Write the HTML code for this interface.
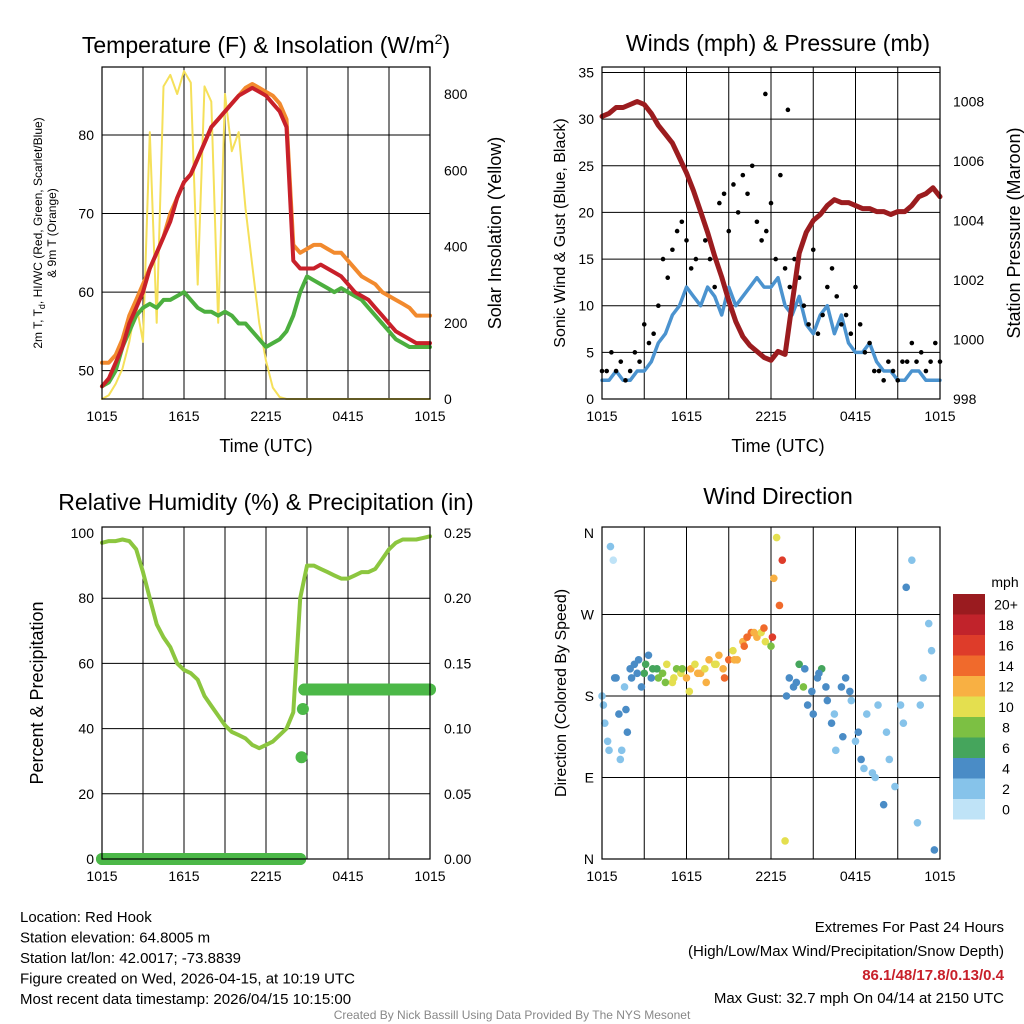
<!DOCTYPE html>
<html><head><meta charset="utf-8"><style>
html,body{margin:0;padding:0;background:#fff;}
svg{display:block;font-family:"Liberation Sans",Arial,sans-serif;}
</style></head><body>
<svg id="c" width="1024" height="1024" viewBox="0 0 1024 1024" xmlns="http://www.w3.org/2000/svg"></svg>
<script>
// ---- data (hours since 1015 UTC, uniform spacing across 24h) ----
const xTickLabels = ["1015","1615","2215","0415","1015"];
const tempRed = [48,49,51,53,56,58,60,63,65,67,69,72,74,75,77,79,81,82,83,84,85,85.5,86,85.5,85,84,83,81,64,63,63,63,63.5,63,62.5,62,61,60,59.5,59,58,57,56,55,54.5,54,53.5,53.5,53.5];
const tempOrange = [51,51,52,54,57,59,61,63,65,67,70,72,74,75,77,79,81,82,83,84,85,86,86.5,86,85.5,85,84,82,66,65,65.5,66,66,65.5,65,65,64,63,62,61.5,61,60,59.5,59,58.5,58,57,57,57];
const tempGreen = [48,48.5,50,53,55,57,58,58.5,58,59,59,59.5,60,59,58,57.5,57.5,57,57.5,57,56,56,55,54,53,53.5,54,55,57,60,62,61.5,61,60.5,60,60.5,60,59.5,59,58,57,56,55,54,53.5,53,53,53,53];
const solar = [0,10,40,80,150,250,150,700,200,820,850,800,860,830,300,820,780,200,800,650,700,500,350,200,100,30,5,0,0,0,0,0,0,0,0,0,0,0,0,0,0,0,0,0,0,0,0,0,0];
const tempTicks = [50,60,70,80];
const solarTicks = [0,200,400,600,800];
const sonic = [2,2,3,2,2,3,3,4,6,7,9,10,12,11,10,12,11,9,12,10,11,12,13,12,12,13,10,9,11,8,7,9,10,7,9,6,5,5,6,4,3,3,2,2,3,3,2,2,2];
const gust = [3,3,5,3,4,2,3,5,4,8,6,7,10,15,13,16,18,19,17,14,15,20,17,15,12,21,22,18,23,20,24,22,25,19,17,18,21,15,24,14,12,15,13,10,8,16,7,9,12,14,11,8,9,7,12,8,5,6,3,3,2,4,3,2,4,4,6,4,5,3,4,6,4];
const gustPeakTimes = [11.6,13.2];
const gustPeakValues = [32.7,31];
const pressure = [1007.5,1007.6,1007.8,1007.8,1007.9,1008.0,1007.9,1007.6,1007.2,1006.9,1006.6,1006.1,1005.6,1005.0,1004.3,1003.6,1002.8,1002.1,1001.3,1000.6,1000.1,999.8,999.6,999.4,999.3,999.6,999.5,1001.2,1002.9,1003.6,1004.0,1004.2,1004.5,1004.7,1004.6,1004.6,1004.5,1004.4,1004.4,1004.3,1004.3,1004.2,1004.3,1004.3,1004.5,1004.8,1004.9,1005.1,1004.8];
const windTicks = [0,5,10,15,20,25,30,35];
const presTicks = [998,1000,1002,1004,1006,1008];
const rh = [97,97.5,97.5,98,97.5,95,88,80,72,68,65,60,58,57,55,50,47,44,41,39,38,37,35,34,35,36,38,40,45,80,90,90,89,88,87,86,86,87,88,88,89,92,95,97,98,98,98,98.5,99];
const precipTimes = [0,14.5,14.6,14.7,14.8,24];
const precipValues = [0,0,0.078,0.115,0.13,0.13];
const rhTicks = [0,20,40,60,80,100];
const precipTicks = ["0.00","0.05","0.10","0.15","0.20","0.25"];
const dirTimes = [0,0.2,0.4,0.6,0.8,1,1.2,1.4,1.6,1.8,2,2.3,2.6,3,3.3,3.6,4,4.3,4.6,5,5.3,5.6,6,6.3,6.6,7,7.3,7.6,8,8.3,8.6,9,9.3,9.6,10,10.3,10.6,11,11.3,11.6,12,12.2,12.4,12.6,12.8,13,13.3,13.6,14,14.3,14.6,15,15.3,15.6,16,16.3,16.6,17,17.3,17.6,18,18.4,18.8,19.2,19.6,20,20.4,20.8,21.2,21.6,22,22.4,22.8,23.2,23.6,
 0.1,0.5,0.9,1.3,1.7,2.1,2.5,2.8,3.1,3.5,3.9,4.5,5.1,5.7,6.2,6.8,7.4,8.1,8.7,9.4,10.1,10.8,11.5,12.1,13.1,13.8,14.4,14.9,15.4,15.9,16.5,17.1,17.7,18.2,18.6,19.4,20.2,21.4,22.6,23.4];
const dirValues = [180,150,130,345,330,200,160,120,190,140,210,215,220,205,225,210,200,205,215,195,210,205,200,210,215,205,210,220,215,225,210,220,230,220,240,245,250,245,250,240,235,310,355,280,330,20,200,190,215,190,170,160,200,210,175,150,120,190,200,185,130,110,160,95,170,60,110,80,170,300,330,40,200,260,10,
 170,120,200,110,165,200,205,190,215,200,210,195,200,210,185,205,195,215,200,220,235,250,255,245,180,195,210,185,205,190,160,135,175,140,100,90,140,150,170,230];
const dirSpeeds = [2,2,1,1,0,3,3,2,2,3,4,4,4,5,3,6,8,7,9,10,8,10,11,12,10,12,9,11,10,12,11,13,10,12,11,13,14,12,10,9,7,12,10,14,15,9,4,3,5,7,4,3,4,5,3,4,2,3,4,3,2,3,2,1,2,3,2,1,2,3,2,1,2,1,3,
 2,1,3,2,3,4,4,3,5,4,6,7,9,8,10,12,11,9,13,12,14,12,13,15,3,4,3,4,3,4,2,3,2,3,1,1,1,1,2,1];
const dirTickLabels = ["N","E","S","W","N"];
const cbLabels = ["0","2","4","6","8","10","12","14","16","18","20+"];
const cbColors = ["#bfe3f7","#86c3ea","#4a8cc6","#45a55c","#7cc043","#e4df4f","#f8b043","#f06a2c","#de3c2a","#c1232b","#9a1b1f"];

const svg = document.getElementById('c');
const NS = "http://www.w3.org/2000/svg";
function el(tag, attrs, parent, name, inter){
  const e = document.createElementNS(NS, tag);
  for (const k in attrs) e.setAttribute(k, attrs[k]);
  
  
  (parent||svg).appendChild(e); return e;
}
function txt(x,y,s,size,anchor,name,extra){
  const t = el('text',Object.assign({x:x,y:y,'font-size':size,'text-anchor':anchor||'start',fill:'#000'},extra||{}),svg,name,false);
  t.textContent = s; return t;
}
function mkScale(d0,d1,r0,r1){ return v => r0 + (v-d0)*(r1-r0)/(d1-d0); }
function uniformT(arr){ return arr.map((v,i)=> i*24/(arr.length-1)); }
function poly(xs,ys,ts,vs,color,w,name){
  const pts = vs.map((v,i)=> xs(ts[i]).toFixed(1)+','+ys(v).toFixed(1)).join(' ');
  el('polyline',{points:pts,fill:'none',stroke:color,'stroke-width':w,'stroke-linejoin':'round','stroke-linecap':'round'},svg,name,false);
}
function frame(x0,y0,x1,y1,name,xs){
  for (let h=3; h<24; h+=3){
    el('line',{x1:xs(h),y1:y0,x2:xs(h),y2:y1,stroke:'#000','stroke-width':1},svg,'x-gridline',false);
  }
  xTickLabels.forEach((s,i)=>{
    const x = xs(i*6);
    txt(x,y1+22,s,14,'middle','x-tick-label');
  });
}
function box(x0,y0,x1,y1,name){
  el('rect',{x:x0,y:y0,width:x1-x0,height:y1-y0,fill:'none',stroke:'#000','stroke-width':1.2},svg,name,false);
}

// ---------- Panel 1: Temperature ----------
(function(){
  const X0=102,X1=430,Y0=67,Y1=399;
  const xs = mkScale(0,24,X0,X1);
  const ys = mkScale(50,80,370.6,135);
  const ss = mkScale(0,800,399,94);
  frame(X0,Y0,X1,Y1,'temp',xs);
  tempTicks.forEach(v=>{
    el('line',{x1:X0,y1:ys(v),x2:X1,y2:ys(v),stroke:'#000','stroke-width':1},svg,'y-gridline',false);
    txt(X0-8,ys(v)+5,String(v),14,'end','y-tick-label');
  });
  solarTicks.forEach(v=>{ txt(X1+14,ss(v)+5,String(v),14,'start','solar-tick-label'); });
  poly(xs,ss,uniformT(solar),solar,'#f5e05a',2,'solar-insolation-line');
  poly(xs,ys,uniformT(tempGreen),tempGreen,'#4caf3f',4,'dewpoint-line');
  poly(xs,ys,uniformT(tempOrange),tempOrange,'#f28a2e',4,'temp-9m-line');
  poly(xs,ys,uniformT(tempRed),tempRed,'#c8202a',4,'temp-2m-line');
  box(X0,Y0,X1,Y1,'temp-plot-frame');
  const t = txt(266,53,'Temperature (F) & Insolation (W/m',23,'middle','temp-chart-title');
  const sup = document.createElementNS(NS,'tspan'); sup.setAttribute('font-size','14'); sup.setAttribute('dy','-9'); sup.textContent='2'; t.appendChild(sup);
  const cl = document.createElementNS(NS,'tspan'); cl.setAttribute('dy','9'); cl.textContent=')'; t.appendChild(cl);
  txt(266,452,'Time (UTC)',18,'middle','x-axis-title');
  txt(0,0,'2m T, T',12,'middle','temp-y-axis-title',{transform:'translate(42,233) rotate(-90)'}).innerHTML='2m T, T<tspan font-size="9" dy="3">d</tspan><tspan dy="-3">, HI/WC (Red, Green, Scarlet/Blue)</tspan>';
  txt(0,0,'& 9m T (Orange)',12,'middle','temp-y-axis-title-2',{transform:'translate(56,233) rotate(-90)'});
  txt(0,0,'Solar Insolation (Yellow)',18,'middle','solar-axis-title',{transform:'translate(501,233) rotate(-90)'});
})();

// ---------- Panel 2: Winds ----------
(function(){
  const X0=602,X1=940,Y0=67,Y1=399;
  const xs = mkScale(0,24,X0,X1);
  const ys = mkScale(0,35,399,72.5);
  const ps = mkScale(998,1008,399,101.5);
  frame(X0,Y0,X1,Y1,'wind',xs);
  windTicks.forEach(v=>{
    if(v>0) el('line',{x1:X0,y1:ys(v),x2:X1,y2:ys(v),stroke:'#000','stroke-width':1},svg,'y-gridline',false);
    txt(X0-8,ys(v)+5,String(v),14,'end','y-tick-label');
  });
  presTicks.forEach(v=>{ txt(X1+13,ps(v)+5,String(v),14,'start','pressure-tick-label'); });
  poly(xs,ys,uniformT(sonic),sonic,'#4b93cf',3.5,'sonic-wind-line');
  const gt = gust.map((v,i)=> i*24/(gust.length-1));
  gust.forEach((v,i)=>{ el('circle',{cx:xs(gt[i]),cy:ys(v),r:2.3,fill:'#000'},svg,'gust-point',false); });
  gustPeakValues.forEach((v,i)=>{ el('circle',{cx:xs(gustPeakTimes[i]),cy:ys(v),r:2.3,fill:'#000'},svg,'gust-peak-point',false); });
  poly(xs,ps,uniformT(pressure),pressure,'#9b1c1f',5,'pressure-line');
  box(X0,Y0,X1,Y1,'wind-plot-frame');
  txt(778,51,'Winds (mph) & Pressure (mb)',23,'middle','wind-chart-title');
  txt(778,452,'Time (UTC)',18,'middle','x-axis-title');
  txt(0,0,'Sonic Wind & Gust (Blue, Black)',16,'middle','wind-y-axis-title',{transform:'translate(565,233) rotate(-90)'});
  txt(0,0,'Station Pressure (Maroon)',18,'middle','pressure-axis-title',{transform:'translate(1020,233) rotate(-90)'});
})();

// ---------- Panel 3: RH & Precip ----------
(function(){
  const X0=102,X1=430,Y0=527,Y1=859;
  const xs = mkScale(0,24,X0,X1);
  const ys = mkScale(0,100,859,533);
  const ps = mkScale(0,0.25,859,533);
  frame(X0,Y0,X1,Y1,'rh',xs);
  rhTicks.forEach(v=>{
    if(v>0 && v<100) el('line',{x1:X0,y1:ys(v),x2:X1,y2:ys(v),stroke:'#000','stroke-width':1},svg,'y-gridline',false);
    txt(X0-8,ys(v)+5,String(v),14,'end','y-tick-label');
  });
  precipTicks.forEach(s=>{ txt(X1+14,ps(parseFloat(s))+5,s,14,'start','precip-tick-label'); });
  poly(xs,ys,uniformT(rh),rh,'#8cc63f',4,'relative-humidity-line');
  for (let i=0;i<precipValues.length-1;i++){
    if (precipValues[i]===precipValues[i+1]){
      el('line',{x1:xs(precipTimes[i]),y1:ps(precipValues[i]),x2:xs(precipTimes[i+1]),y2:ps(precipValues[i+1]),stroke:'#4cb848','stroke-width':12,'stroke-linecap':'round'},svg,'precip-line',false);
    }
  }
  precipValues.forEach((v,i)=>{ el('circle',{cx:xs(precipTimes[i]),cy:ps(v),r:6,fill:'#4cb848'},svg,'precip-point',false); });
  box(X0,Y0,X1,Y1,'rh-plot-frame');
  txt(266,510,'Relative Humidity (%) & Precipitation (in)',23,'middle','rh-chart-title');
  txt(0,0,'Percent & Precipitation',18,'middle','rh-y-axis-title',{transform:'translate(43,693) rotate(-90)'});
})();

// ---------- Panel 4: Wind Direction ----------
(function(){
  const X0=602,X1=940,Y0=527,Y1=859;
  const xs = mkScale(0,24,X0,X1);
  const ys = mkScale(0,360,859,533);
  frame(X0,Y0,X1,Y1,'dir',xs);
  dirTickLabels.forEach((s,i)=>{
    const v=i*90;
    if(i>0 && i<4) el('line',{x1:X0,y1:ys(v),x2:X1,y2:ys(v),stroke:'#000','stroke-width':1},svg,'y-gridline',false);
    txt(X0-8,ys(v)+5,s,14,'end','y-tick-label');
  });
  const n = Math.min(dirTimes.length,dirValues.length,dirSpeeds.length);
  for(let i=0;i<n;i++){
    const ci = Math.min(10,Math.round(dirSpeeds[i]/2));
    el('circle',{cx:xs(dirTimes[i]),cy:ys(dirValues[i]),r:3.8,fill:cbColors[ci]},svg,'wind-direction-point',false);
  }
  box(X0,Y0,X1,Y1,'dir-plot-frame');
  txt(778,504,'Wind Direction',23,'middle','dir-chart-title');
  txt(0,0,'Direction (Colored By Speed)',16,'middle','dir-y-axis-title',{transform:'translate(566,693) rotate(-90)'});
  txt(1005,587,'mph',14,'middle','colorbar-title');
  const cbTop=594, cbH=20.5;
  cbColors.forEach((c,i)=>{
    const y = cbTop + (10-i)*cbH;
    el('rect',{x:953,y:y,width:32,height:cbH,fill:c},svg,'colorbar-swatch',false);
    txt(1006,y+cbH/2+5,cbLabels[i],14,'middle','colorbar-label');
  });
})();

// ---------- Footer text ----------
const leftLines = ["Location: Red Hook","Station elevation: 64.8005 m","Station lat/lon: 42.0017; -73.8839","Figure created on Wed, 2026-04-15, at 10:19 UTC","Most recent data timestamp: 2026/04/15 10:15:00"];
leftLines.forEach((s,i)=> txt(20,922+i*20.5,s,15,'start','station-info-line'));
txt(1004,932,'Extremes For Past 24 Hours',15,'end','extremes-title');
txt(1004,956,'(High/Low/Max Wind/Precipitation/Snow Depth)',15,'end','extremes-subtitle');
txt(1004,980,'86.1/48/17.8/0.13/0.4',15,'end','extremes-values',{fill:'#c8202a','font-weight':'bold'});
txt(1004,1003,'Max Gust: 32.7 mph On 04/14 at 2150 UTC',15,'end','max-gust-text');
txt(512,1019,'Created By Nick Bassill Using Data Provided By The NYS Mesonet',12,'middle','credit-text',{fill:'#888'});
</script>
</body></html>
